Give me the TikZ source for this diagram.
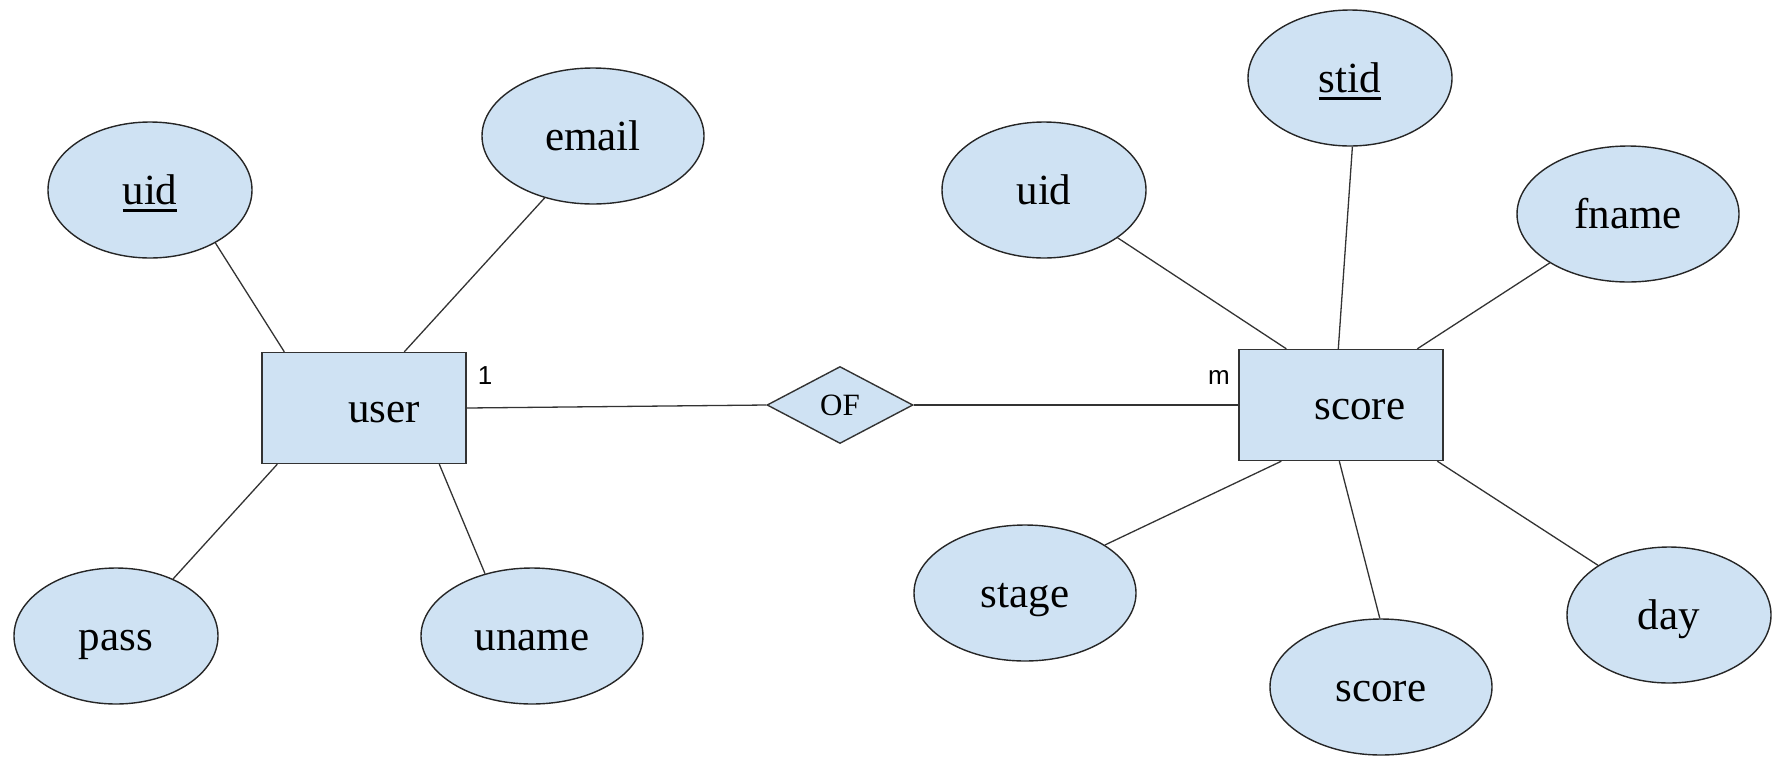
\documentclass[tikz,border=0pt]{standalone}
\usepackage{fontspec}
\setmainfont{Liberation Serif}
\newfontfamily\cardfont{Liberation Sans}
\usetikzlibrary{shapes.geometric,calc}
\definecolor{attrfill}{HTML}{CFE2F3}
\definecolor{edge}{HTML}{333333}
% key attribute: text with a solid underline
\newcommand\keyattr[1]{\setbox0\hbox{#1}\rlap{\raisebox{-7pt}{\rule{\wd0}{2.6pt}}}\box0}

\begin{document}
\begin{tikzpicture}[x=1pt,y=-1pt,
  attr/.style={ellipse, draw=black!85, fill=attrfill, line width=1.4pt,
    inner sep=0pt, minimum width=204, minimum height=136,
    font=\fontsize{43}{50}\selectfont, text height=29pt, text depth=0pt},
  wideattr/.style={attr, minimum width=222},
  entity/.style={rectangle, draw=edge, fill=attrfill, line width=1.4pt,
    inner sep=0pt, minimum width=204, minimum height=111},
  rel/.style={diamond, draw=edge, fill=attrfill, line width=1.4pt,
    inner sep=0pt, minimum width=146, minimum height=77,
    font=\fontsize{31}{36}\selectfont},
  label/.style={font=\fontsize{43}{50}\selectfont, text height=29pt, text depth=0pt},
  card/.style={font=\cardfont\fontsize{26}{30}\selectfont},
  link/.style={draw=edge, line width=1.3pt}]

\useasboundingbox (0,0) rectangle (1772,756);

% entities and relationship
\node[entity] (user) at (364,408) {};
\node[label] (usertext) at (384,408) {user};
\node[entity] (score) at (1341,405) {};
\node[label] (scoretext) at (1360,405) {score};
\node[rel] (of) at (840,405) {OF};

% attributes of user
\node[attr] (uid) at (150,190) {\keyattr{uid}};
\node[wideattr] (email) at (593,136) {email};
\node[attr] (pass) at (116,636) {pass};
\node[wideattr] (uname) at (532,636) {uname};

% attributes of score
\node[attr] (stid) at (1350,78) {\keyattr{stid}};
\node[attr] (suid) at (1044,190) {uid};
\node[wideattr] (fname) at (1628,214) {fname};
\node[wideattr] (stage) at (1025,593) {stage};
\node[wideattr] (sscore) at (1381,687) {score};
\node[attr] (day) at (1669,615) {day};

% cardinalities
\node[card] (one) at (485,376) {1};
\node[card] (many) at (1219,377) {m};

% attachment points on the entity boxes
\coordinate (u1) at ($(user.north west)+(23,0)$);
\coordinate (u2) at ($(user.north west)+(143,0)$);
\coordinate (u3) at ($(user.south west)+(16,0)$);
\coordinate (u4) at ($(user.south west)+(178,0)$);
\coordinate (s1) at ($(score.north west)+(48,0)$);
\coordinate (s2) at ($(score.north west)+(100,0)$);
\coordinate (s3) at ($(score.north west)+(179,0)$);
\coordinate (s4) at ($(score.south west)+(43,0)$);
\coordinate (s5) at ($(score.south west)+(101,0)$);
\coordinate (s6) at ($(score.south west)+(199,0)$);

% connectors
\draw[link] (uid.321) -- (u1);
\draw[link] (email.232) -- (u2);
\draw[link] (pass.45) -- (u3);
\draw[link] (uname.127) -- (u4);
\draw[link] (suid.327) -- (s1);
\draw[link] (stid.272) -- (s2);
\draw[link] (fname.212) -- (s3);
\draw[link] (stage.31) -- (s4);
\draw[link] (sscore.91) -- (s5);
\draw[link] (day.145) -- (s6);
\draw[link] (user.east) -- (of.west);
\draw[link] (of.east) -- (score.west);
\end{tikzpicture}
\end{document}
